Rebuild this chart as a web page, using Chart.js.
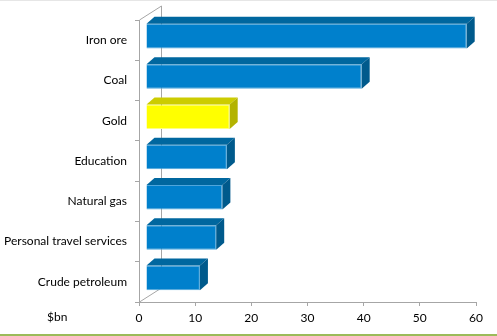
<!DOCTYPE html>
<html>
<head>
<meta charset="utf-8">
<script src="https://cdn.jsdelivr.net/npm/chart.js@4"></script>
<style>
  html, body { margin: 0; padding: 0; background: #fff; }
  #wrap { position: relative; width: 497px; height: 336px; box-sizing: border-box;
          border-top: 1px solid #e6e6e6; border-bottom: 2px solid #9bbb59; }
</style>
</head>
<body>
<div id="wrap"><canvas id="chart" width="497" height="333"></canvas></div>
<script>
const categories = ["Iron ore", "Coal", "Gold", "Education", "Natural gas", "Personal travel services", "Crude petroleum"]
const exportValues = [57.1, 38.4, 14.9, 14.4, 13.6, 12.5, 9.6]
const barColors = ["#0080cc", "#0080cc", "#ffff00", "#0080cc", "#0080cc", "#0080cc", "#0080cc"]
const edgeColors = ["#4ea6dc", "#4ea6dc", "#ffff80", "#4ea6dc", "#4ea6dc", "#4ea6dc", "#4ea6dc"]
const topColors = ["#00679f", "#00679f", "#cccc00", "#00679f", "#00679f", "#00679f", "#00679f"]
const sideColors = ["#005a8c", "#005a8c", "#b3b300", "#005a8c", "#005a8c", "#005a8c", "#005a8c"]
const xTicks = [0, 10, 20, 30, 40, 50, 60]
const unitLabel = "$bn"

const FONT = "Lato, 'Open Sans', sans-serif"
const WALL = {dx: 22, dy: -14}
const BAR_SHIFT = {dx: 7, dy: -4}
const BAR_DEPTH = {dx: 8, dy: -7}

// fake 3D: back wall, floor edge, bar top/right faces
const threeD = {
    id: "threeD",
    beforeDatasetsDraw(chart){
        const ctx = chart.ctx
        const a = chart.chartArea
        ctx.save()
        ctx.strokeStyle = "#a6a6a6"
        ctx.lineWidth = 1
        ctx.beginPath()
        ctx.moveTo(a.left + 0.5, a.top)
        ctx.lineTo(a.left + WALL.dx + 0.5, a.top + WALL.dy)
        ctx.lineTo(a.left + WALL.dx + 0.5, a.bottom + WALL.dy)
        ctx.lineTo(a.left + 0.5, a.bottom)
        ctx.stroke()
        ctx.restore()
        ctx.save()
        ctx.translate(BAR_SHIFT.dx, BAR_SHIFT.dy)
    },
    afterDatasetsDraw(chart){
        const ctx = chart.ctx
        const meta = chart.getDatasetMeta(0)
        meta.data.forEach((bar, i) => {
            const p = bar.getProps(["x", "y", "base", "height"], true)
            const top = p.y - p.height / 2
            const bottom = p.y + p.height / 2
            const d = BAR_DEPTH
            ctx.fillStyle = topColors[i]
            ctx.beginPath()
            ctx.moveTo(p.base, top)
            ctx.lineTo(p.base + d.dx, top + d.dy)
            ctx.lineTo(p.x + d.dx, top + d.dy)
            ctx.lineTo(p.x, top)
            ctx.closePath()
            ctx.fill()
            ctx.fillStyle = sideColors[i]
            ctx.beginPath()
            ctx.moveTo(p.x, top)
            ctx.lineTo(p.x + d.dx, top + d.dy)
            ctx.lineTo(p.x + d.dx, bottom + d.dy)
            ctx.lineTo(p.x, bottom)
            ctx.closePath()
            ctx.fill()
        })
        ctx.restore()

        const a = chart.chartArea
        ctx.save()
        ctx.font = "12px " + FONT
        ctx.fillStyle = "#000"
        ctx.textBaseline = "middle"
        ctx.fillText(unitLabel, 47, a.bottom + 15)
        ctx.restore()
    }
}

new Chart(document.getElementById("chart"), {
    type: "bar",
    data: {
        labels: categories,
        datasets: [{
            data: exportValues,
            backgroundColor: barColors,
            borderColor: edgeColors,
            borderWidth: 1,
            barPercentage: 0.61,
            categoryPercentage: 1
        }]
    },
    options: {
        indexAxis: "y",
        responsive: false,
        animation: false,
        layout: {padding: {top: 19, right: 21, bottom: 0, left: 0}},
        plugins: {legend: {display: false}, tooltip: {enabled: false}},
        scales: {
            x: {
                min: 0, max: 60,
                afterFit(scale){ scale.height = 32 },
                afterBuildTicks(scale){ scale.ticks = xTicks.map(v => ({value: v})) },
                border: {display: true, color: "#a6a6a6"},
                grid: {drawOnChartArea: false, tickLength: 4, color: "#a6a6a6"},
                ticks: {padding: 5, color: "#000", font: {family: FONT, size: 12}}
            },
            y: {
                afterFit(scale){ scale.width = 139 },
                border: {display: true, color: "#a6a6a6"},
                grid: {drawOnChartArea: false, tickLength: 4, color: "#a6a6a6", offset: true},
                ticks: {padding: 8, color: "#000", font: {family: FONT, size: 12}}
            }
        }
    },
    plugins: [threeD]
})
</script>
</body>
</html>
